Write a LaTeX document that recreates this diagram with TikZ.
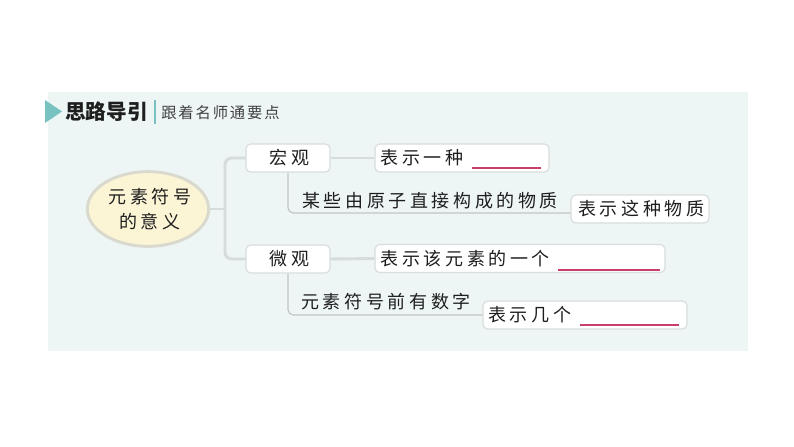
\documentclass[tikz,border=0pt]{standalone}
\usepackage{fontspec}
\usetikzlibrary{shapes.geometric}
\newfontfamily\cjk{Noto Sans CJK SC}
\newfontfamily\cjkls[LetterSpace=20]{Noto Sans CJK SC}
\newfontfamily\cjksm[LetterSpace=12]{Noto Sans CJK SC}
\definecolor{panel}{HTML}{EEF5F5}
\definecolor{teal}{HTML}{78C2C2}
\definecolor{conn}{HTML}{D6DBDB}
\definecolor{boxline}{HTML}{D8DDDD}
\definecolor{ulc}{HTML}{C8406A}
\definecolor{ellfill}{HTML}{FBF5D6}
\definecolor{ellline}{HTML}{D9D9CE}
\definecolor{ink}{HTML}{1E1E1E}
\tikzset{
  mbox/.style={draw=boxline, fill=white, line width=0.9pt, rounded corners=3.5pt,
    minimum height=21pt, inner sep=0pt, text=ink, font=\cjkls\fontsize{13.5pt}{16pt}\selectfont},
  plain/.style={inner sep=0pt, text=ink, font=\cjkls\fontsize{13.5pt}{16pt}\selectfont},
  thick conn/.style={draw=conn, line width=2.2pt},
  thin conn/.style={draw=conn!90!black, line width=0.9pt, rounded corners=4pt},
  ul/.style={draw=ulc, line width=0.9pt}
}
\begin{document}
\begin{tikzpicture}[x=0.75pt, y=-0.75pt]
\useasboundingbox (0,0) rectangle (794,447);
% panel
\fill[panel] (48,92) rectangle (748,351);
% header
\fill[teal] (45,100) -- (62,111.5) -- (45,123) -- cycle;
\node[anchor=west, inner sep=0pt, text=ink, font=\cjk\bfseries\fontsize{15.5pt}{18pt}\selectfont] (h1) at (65,112) {思路导引};
\draw[teal, line width=1.2pt] (155,100) -- (155,124);
\node[anchor=west, inner sep=0pt, text=ink!85, font=\cjksm\fontsize{11.5pt}{13pt}\selectfont] (h2) at (161,113) {跟着名师通要点};
% ellipse
\node[ellipse, draw=ellline, fill=ellfill, line width=2.2pt, minimum width=91pt, minimum height=56pt, inner sep=0pt] (e) at (148,209) {};
\node[plain, align=center, font=\cjkls\fontsize{13.5pt}{19pt}\selectfont] (et) at ([xshift=1.5pt]e.center) {元素符号\\的意义};
% level 1
\node[mbox, minimum width=63pt] (b11) at (288,158) {\hspace{2pt}宏观};
\node[mbox, minimum width=63pt] (b21) at (288,259) {\hspace{2pt}微观};
\coordinate (j) at (225,209);
\draw[thick conn] (e.east) -- (j);
\draw[thick conn, rounded corners=5pt] (b11.west) -| (j) |- (b21.west);
% 宏观 branch
\node[mbox, minimum width=130.5pt, text width=122pt, align=left] (b12) at (462,158) {表示一种};
\draw[thick conn] (b11.east) -- (b12.west);
\draw[ul] (472,168) -- (541,168);
\node[plain] (t13) at (430,201) {某些由原子直接构成的物质};
\node[mbox, minimum width=103.5pt] (b14) at (640,209) {\hspace{2pt}表示这种物质};
\draw[thin conn] (b11.south) |- ([yshift=-3pt]b14.west);
% 微观 branch
\node[mbox, minimum width=217.5pt, text width=209pt, align=left] (b22) at (520,258.5) {表示该元素的一个};
\draw[thick conn] (b21.east) -- (b22.west);
\draw[ul] (558,270) -- (660,270);
\node[plain] (t23) at (386,302) {元素符号前有数字};
\node[mbox, minimum width=153pt, text width=145pt, align=left] (b24) at (585,315) {表示几个};
\draw[thin conn] (b21.south) |- (b24.west);
\draw[ul] (580,325) -- (679,325);
\end{tikzpicture}
\end{document}
